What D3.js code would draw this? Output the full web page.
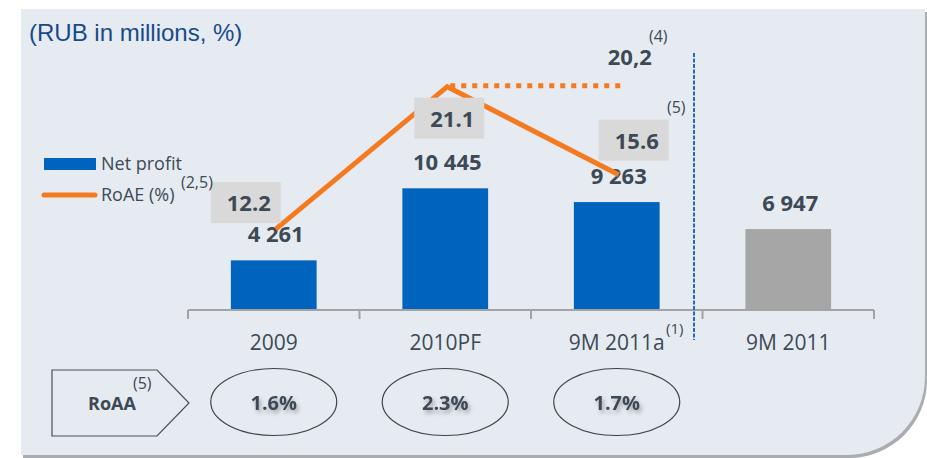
<!DOCTYPE html>
<html>
<head>
<meta charset="utf-8">
<script src="https://cdn.jsdelivr.net/npm/d3@7"></script>
<style>
  body { margin: 0; background: #fff; }
  svg { display: block; }
  text { font-family: "Open Sans", sans-serif; fill: #3d4955; }
</style>
</head>
<body>
<svg id="chart"></svg>
<script>
// data
const categories = ["2009", "2010PF", "9M 2011a", "9M 2011"];
const netProfit = [4261, 10445, 9263, 6947];
const roaeCategories = ["2009", "2010PF", "9M 2011a"];
const roae = [12.2, 21.1, 15.6];
const roaeAdjusted = 20.2;
const roaa = [1.6, 2.3, 1.7];
const compareCategory = "9M 2011";

const width = 927, height = 458;
const blue = "#0063be", grey = "#a6a6a6", orange = "#f47a20";

const svg = d3.select("#chart")
  .attr("width", width)
  .attr("height", height)
  .attr("viewBox", [0, 0, width, height]);

const defs = svg.append("defs");
const shadow = defs.append("filter").attr("id", "soft")
  .attr("x", "-30%").attr("y", "-30%").attr("width", "160%").attr("height", "180%");
shadow.append("feDropShadow")
  .attr("dx", 2).attr("dy", 3).attr("stdDeviation", 2)
  .attr("flood-color", "#000").attr("flood-opacity", 0.3);

// panel with rounded bottom-right corner
const r = 78;
const panel = `M21,9 H925 V${455 - r} A${r},${r} 0 0 1 ${925 - r},455 H21 Z`;
svg.append("path").attr("d", panel).attr("transform", "translate(2,3)").attr("fill", "#a9acb0");
svg.append("path").attr("d", panel).attr("fill", "#e6ebf2");

svg.append("text")
  .attr("x", 29).attr("y", 41)
  .style("font-family", "'Liberation Sans', Arial, sans-serif")
  .style("font-size", "24px")
  .style("fill", "#174a8b")
  .text("(RUB in millions, %)");

// scales
const x = d3.scaleBand()
  .domain(categories)
  .range([188, 874])
  .paddingInner(0.5)
  .paddingOuter(0.25);
const cx = d => x(d) + x.bandwidth() / 2;

const y = d3.scaleLinear().domain([0, 12000]).range([310, 170.2]);
const yR = d3.scaleLinear().domain([10, 22]).range([264.3, 72.3]);

const fmt = v => d3.format(",")(v).replace(/,/g, " ");

// bars
svg.append("g")
  .selectAll("rect")
  .data(categories)
  .join("rect")
  .attr("x", d => x(d))
  .attr("y", (d, i) => y(netProfit[i]))
  .attr("width", x.bandwidth())
  .attr("height", (d, i) => y(0) - y(netProfit[i]))
  .attr("fill", d => d === compareCategory ? grey : blue);

// axis: baseline plus ticks between categories
const step = x.step();
const edges = d3.range(categories.length + 1).map(i => 188 + i * step);
const axis = svg.append("g").attr("stroke", "#a3a3a3").attr("stroke-width", 2);
axis.append("line").attr("x1", 188).attr("x2", 874).attr("y1", 310).attr("y2", 310);
axis.selectAll(".tick")
  .data(edges)
  .join("line")
  .attr("x1", d => d).attr("x2", d => d)
  .attr("y1", 310).attr("y2", 319);

svg.append("g")
  .selectAll("text")
  .data(categories)
  .join("text")
  .attr("x", d => cx(d))
  .attr("y", 349.5)
  .attr("text-anchor", "middle")
  .style("font-size", "21px")
  .text(d => d);

svg.append("text")
  .attr("x", 666).attr("y", 334)
  .style("font-size", "15px")
  .text("(1)");

// net profit labels
svg.append("g")
  .selectAll("text")
  .data(categories)
  .join("text")
  .attr("x", d => cx(d) + 2)
  .attr("y", (d, i) => y(netProfit[i]) - 18)
  .attr("text-anchor", "middle")
  .style("font-size", "22px")
  .style("font-weight", "bold")
  .text((d, i) => fmt(netProfit[i]));

// RoAE line
const pts = roaeCategories.map((c, i) => [cx(c) + 2, yR(roae[i])]);
svg.append("path")
  .attr("d", d3.line()(pts))
  .attr("fill", "none")
  .attr("stroke", orange)
  .attr("stroke-width", 5)
  .attr("stroke-linejoin", "miter");

// dotted continuation for the adjusted 2011 figure
const peak = pts[1];
svg.append("line")
  .attr("x1", peak[0] + 3).attr("x2", cx("9M 2011a") + 4)
  .attr("y1", peak[1] - 1).attr("y2", peak[1] - 1)
  .attr("stroke", orange)
  .attr("stroke-width", 5)
  .attr("stroke-dasharray", "5,6");

svg.append("text")
  .attr("x", cx("9M 2011a") + 13).attr("y", peak[1] - 22)
  .attr("text-anchor", "middle")
  .style("font-size", "22px")
  .style("font-weight", "bold")
  .text(d3.format(".1f")(roaeAdjusted).replace(".", ","));
svg.append("text")
  .attr("x", 649).attr("y", 42)
  .style("font-size", "16px")
  .text("(4)");

// grey value boxes, offset from each point
const boxOffset = [[-63, -47], [-31, 11], [-18, -55]];
const boxes = svg.append("g")
  .selectAll("g")
  .data(roae)
  .join("g")
  .attr("transform", (d, i) => `translate(${cx(roaeCategories[i]) + boxOffset[i][0]},${yR(d) + boxOffset[i][1]})`);
boxes.append("rect")
  .attr("width", 70).attr("height", 41)
  .attr("fill", "#d9d9d9");
boxes.append("text")
  .attr("x", 38).attr("y", 29)
  .attr("text-anchor", "middle")
  .style("font-size", "22px")
  .style("font-weight", "bold")
  .text(d => d3.format(".1f")(d));

svg.append("text")
  .attr("x", 667).attr("y", 113)
  .style("font-size", "16px")
  .text("(5)");

// separator between pro-forma and reported
svg.append("line")
  .attr("x1", 694).attr("x2", 694)
  .attr("y1", 53).attr("y2", 340)
  .attr("stroke", "#1f6cc6")
  .attr("stroke-width", 2)
  .attr("stroke-dasharray", "4,1.5");

// legend
const legend = svg.append("g");
legend.append("rect")
  .attr("x", 44).attr("y", 158).attr("width", 52).attr("height", 12)
  .attr("fill", blue);
legend.append("text")
  .attr("x", 101).attr("y", 170)
  .style("font-size", "18px")
  .text("Net profit");
legend.append("line")
  .attr("x1", 44).attr("x2", 95).attr("y1", 195).attr("y2", 195)
  .attr("stroke", orange).attr("stroke-width", 5).attr("stroke-linecap", "round");
legend.append("text")
  .attr("x", 101).attr("y", 201)
  .style("font-size", "18px")
  .text("RoAE (%)");
legend.append("text")
  .attr("x", 181).attr("y", 188)
  .style("font-size", "16px")
  .text("(2,5)");

// RoAA row
svg.append("path")
  .attr("d", "M52,370 H157 L189,403 L157,436 H52 Z")
  .attr("fill", "#e6ebf2")
  .attr("stroke", "#4a4f55")
  .attr("stroke-width", 1.2);
svg.append("text")
  .attr("x", 112).attr("y", 409.5)
  .attr("text-anchor", "middle")
  .style("font-size", "18px")
  .style("font-weight", "bold")
  .text("RoAA");
svg.append("text")
  .attr("x", 133).attr("y", 389)
  .style("font-size", "16px")
  .text("(5)");

const ovals = svg.append("g")
  .selectAll("g")
  .data(roaa)
  .join("g")
  .attr("transform", (d, i) => `translate(${cx(categories[i])},402)`);
ovals.append("ellipse")
  .attr("rx", 63).attr("ry", 33.5)
  .attr("fill", "none")
  .attr("stroke", "#3f4347")
  .attr("stroke-width", 1.2);
ovals.append("text")
  .attr("y", 7.5)
  .attr("text-anchor", "middle")
  .attr("filter", "url(#soft)")
  .style("font-size", "20px")
  .style("font-weight", "bold")
  .text(d => d3.format(".1f")(d) + "%");
</script>
</body>
</html>
